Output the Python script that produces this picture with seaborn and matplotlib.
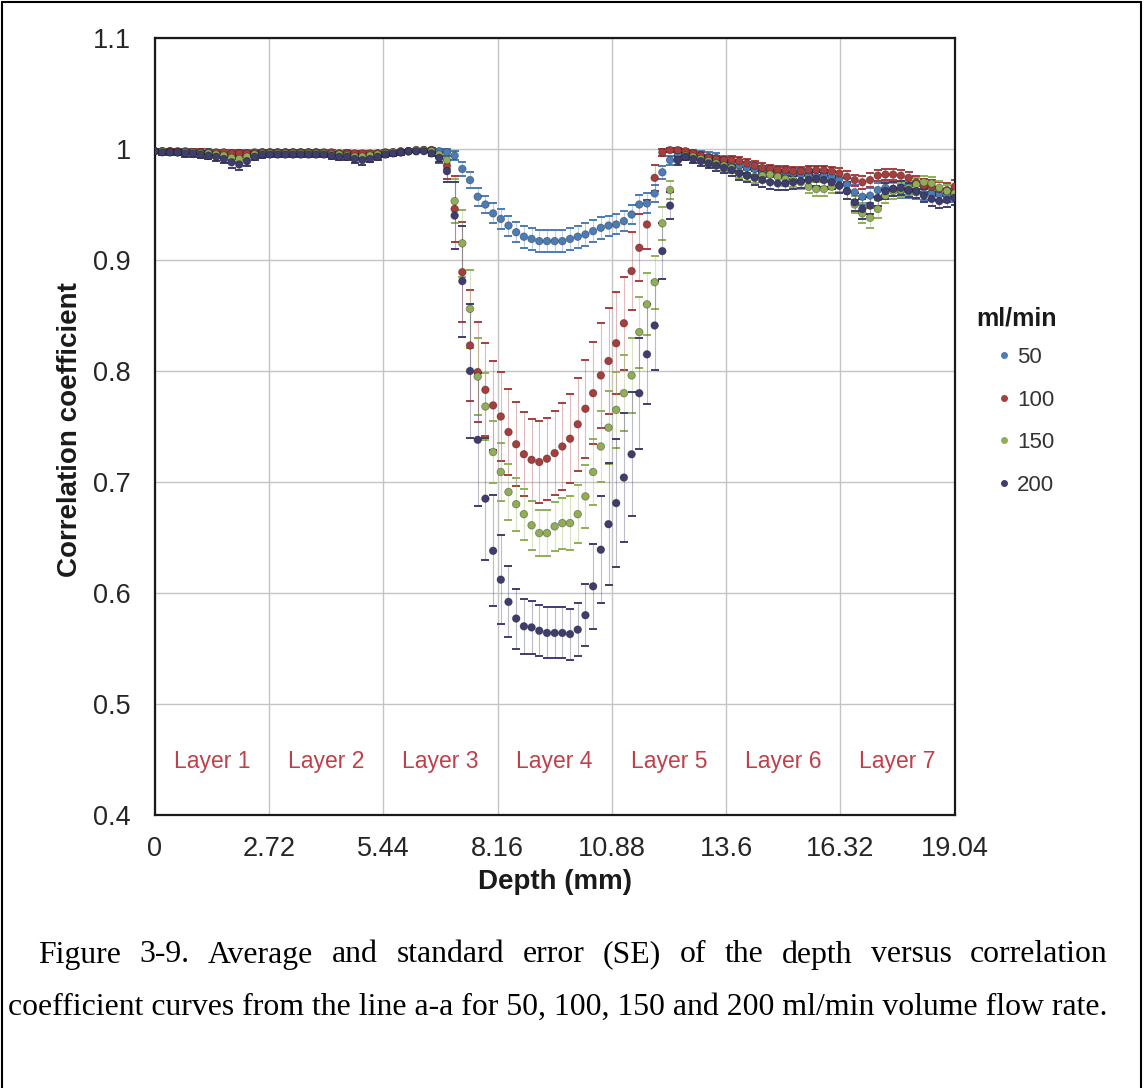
import numpy as np
import pandas as pd
import matplotlib.pyplot as plt
from matplotlib.lines import Line2D
import seaborn as sns

# === Data ===
# 105 samples along line a-a, evenly spaced from 0 to 19.04 mm
depth = np.linspace(0, 19.04, 105)

rates = ["50", "100", "150", "200"]
colors = ["#4C7CB6", "#A63E3E", "#91AE56", "#3F3D6E"]

# one row per layer (15 samples each)
corr_50 = [
    0.998, 0.998, 0.998, 0.997, 0.998, 0.997, 0.997, 0.997, 0.996, 0.996, 0.995, 0.996, 0.996, 0.997, 0.997,
    0.997, 0.997, 0.997, 0.997, 0.997, 0.997, 0.997, 0.996, 0.996, 0.996, 0.996, 0.995, 0.995, 0.995, 0.996,
    0.996, 0.997, 0.997, 0.998, 0.998, 0.999, 0.999, 0.998, 0.997, 0.994, 0.982, 0.972, 0.957, 0.950, 0.942,
    0.937, 0.931, 0.925, 0.921, 0.919, 0.917, 0.917, 0.917, 0.917, 0.919, 0.921, 0.923, 0.926, 0.929, 0.931,
    0.932, 0.935, 0.941, 0.950, 0.951, 0.960, 0.979, 0.990, 0.996, 0.996, 0.995, 0.994, 0.993, 0.992, 0.990,
    0.988, 0.985, 0.983, 0.982, 0.980, 0.980, 0.979, 0.979, 0.978, 0.977, 0.976, 0.975, 0.976, 0.975, 0.973,
    0.968, 0.961, 0.957, 0.958, 0.963, 0.965, 0.964, 0.962, 0.962, 0.961, 0.960, 0.960, 0.959, 0.958, 0.958,
]
se_50 = [
    0.002, 0.002, 0.002, 0.002, 0.002, 0.002, 0.002, 0.003, 0.003, 0.003, 0.003, 0.003, 0.003, 0.002, 0.002,
    0.002, 0.002, 0.002, 0.002, 0.002, 0.002, 0.002, 0.002, 0.002, 0.002, 0.003, 0.003, 0.003, 0.003, 0.002,
    0.002, 0.002, 0.002, 0.001, 0.001, 0.001, 0.001, 0.002, 0.003, 0.004, 0.006, 0.007, 0.008, 0.008, 0.009,
    0.009, 0.009, 0.009, 0.010, 0.010, 0.010, 0.010, 0.010, 0.010, 0.010, 0.010, 0.010, 0.010, 0.010, 0.009,
    0.009, 0.009, 0.009, 0.009, 0.009, 0.008, 0.006, 0.004, 0.003, 0.003, 0.003, 0.004, 0.004, 0.004, 0.004,
    0.005, 0.005, 0.005, 0.005, 0.005, 0.005, 0.005, 0.005, 0.005, 0.005, 0.005, 0.005, 0.005, 0.005, 0.006,
    0.006, 0.007, 0.007, 0.007, 0.006, 0.006, 0.006, 0.006, 0.006, 0.006, 0.006, 0.006, 0.006, 0.006, 0.006,
]

corr_100 = [
    0.998, 0.998, 0.998, 0.998, 0.997, 0.997, 0.997, 0.997, 0.997, 0.997, 0.996, 0.996, 0.996, 0.996, 0.997,
    0.997, 0.997, 0.997, 0.997, 0.997, 0.997, 0.997, 0.997, 0.997, 0.996, 0.996, 0.996, 0.996, 0.996, 0.996,
    0.997, 0.997, 0.998, 0.998, 0.999, 0.999, 0.999, 0.993, 0.985, 0.946, 0.889, 0.823, 0.799, 0.783, 0.769,
    0.759, 0.745, 0.734, 0.725, 0.720, 0.718, 0.721, 0.726, 0.732, 0.739, 0.752, 0.766, 0.780, 0.796, 0.809,
    0.825, 0.843, 0.890, 0.911, 0.932, 0.974, 0.997, 0.999, 0.999, 0.998, 0.996, 0.994, 0.992, 0.991, 0.990,
    0.990, 0.989, 0.987, 0.985, 0.983, 0.982, 0.981, 0.981, 0.980, 0.980, 0.981, 0.981, 0.981, 0.980, 0.978,
    0.975, 0.972, 0.970, 0.972, 0.976, 0.977, 0.977, 0.976, 0.974, 0.970, 0.967, 0.966, 0.964, 0.963, 0.966,
]
se_100 = [
    0.002, 0.002, 0.002, 0.002, 0.002, 0.003, 0.003, 0.002, 0.002, 0.002, 0.003, 0.003, 0.002, 0.002, 0.002,
    0.002, 0.002, 0.002, 0.002, 0.002, 0.002, 0.002, 0.002, 0.002, 0.002, 0.002, 0.002, 0.002, 0.002, 0.002,
    0.002, 0.002, 0.001, 0.001, 0.001, 0.001, 0.002, 0.006, 0.012, 0.030, 0.045, 0.050, 0.045, 0.042, 0.040,
    0.040, 0.039, 0.038, 0.038, 0.037, 0.037, 0.037, 0.038, 0.039, 0.040, 0.042, 0.044, 0.046, 0.047, 0.048,
    0.046, 0.042, 0.035, 0.030, 0.022, 0.012, 0.003, 0.002, 0.002, 0.002, 0.003, 0.003, 0.003, 0.003, 0.003,
    0.004, 0.004, 0.004, 0.004, 0.004, 0.004, 0.004, 0.004, 0.004, 0.004, 0.004, 0.004, 0.004, 0.004, 0.005,
    0.005, 0.005, 0.006, 0.006, 0.005, 0.005, 0.005, 0.005, 0.005, 0.006, 0.006, 0.006, 0.006, 0.006, 0.006,
]

corr_150 = [
    0.998, 0.998, 0.997, 0.997, 0.997, 0.997, 0.996, 0.996, 0.995, 0.994, 0.992, 0.991, 0.993, 0.995, 0.996,
    0.996, 0.996, 0.996, 0.996, 0.996, 0.996, 0.996, 0.996, 0.995, 0.995, 0.994, 0.993, 0.993, 0.994, 0.995,
    0.996, 0.997, 0.997, 0.998, 0.999, 0.999, 0.998, 0.995, 0.990, 0.953, 0.915, 0.856, 0.795, 0.768, 0.727,
    0.709, 0.691, 0.680, 0.671, 0.661, 0.654, 0.654, 0.660, 0.663, 0.663, 0.671, 0.687, 0.709, 0.732, 0.749,
    0.765, 0.780, 0.796, 0.835, 0.860, 0.880, 0.933, 0.963, 0.990, 0.994, 0.993, 0.991, 0.989, 0.987, 0.985,
    0.983, 0.979, 0.976, 0.975, 0.976, 0.977, 0.975, 0.973, 0.972, 0.970, 0.966, 0.964, 0.964, 0.966, 0.967,
    0.962, 0.950, 0.942, 0.938, 0.946, 0.958, 0.962, 0.963, 0.965, 0.968, 0.970, 0.969, 0.965, 0.962, 0.960,
]
se_150 = [
    0.002, 0.002, 0.002, 0.002, 0.002, 0.002, 0.003, 0.003, 0.003, 0.004, 0.004, 0.004, 0.003, 0.003, 0.002,
    0.002, 0.002, 0.002, 0.002, 0.002, 0.002, 0.002, 0.002, 0.003, 0.003, 0.003, 0.003, 0.003, 0.003, 0.003,
    0.002, 0.002, 0.002, 0.001, 0.001, 0.001, 0.002, 0.003, 0.008, 0.020, 0.030, 0.035, 0.035, 0.030, 0.028,
    0.026, 0.025, 0.024, 0.023, 0.022, 0.021, 0.021, 0.022, 0.023, 0.024, 0.026, 0.028, 0.030, 0.032, 0.033,
    0.034, 0.034, 0.034, 0.032, 0.028, 0.024, 0.015, 0.008, 0.004, 0.003, 0.003, 0.004, 0.004, 0.004, 0.005,
    0.005, 0.005, 0.005, 0.006, 0.006, 0.006, 0.006, 0.006, 0.006, 0.006, 0.006, 0.006, 0.006, 0.006, 0.006,
    0.007, 0.008, 0.009, 0.009, 0.008, 0.007, 0.007, 0.006, 0.006, 0.006, 0.006, 0.006, 0.006, 0.006, 0.006,
]

corr_200 = [
    0.998, 0.997, 0.997, 0.997, 0.996, 0.996, 0.995, 0.994, 0.993, 0.991, 0.988, 0.986, 0.989, 0.993, 0.995,
    0.995, 0.995, 0.995, 0.995, 0.995, 0.995, 0.995, 0.995, 0.994, 0.993, 0.993, 0.991, 0.990, 0.991, 0.993,
    0.995, 0.996, 0.997, 0.998, 0.998, 0.998, 0.996, 0.992, 0.980, 0.940, 0.881, 0.800, 0.738, 0.685, 0.638,
    0.612, 0.592, 0.577, 0.570, 0.569, 0.566, 0.564, 0.564, 0.564, 0.563, 0.567, 0.580, 0.606, 0.639, 0.662,
    0.681, 0.704, 0.725, 0.780, 0.815, 0.841, 0.908, 0.949, 0.990, 0.993, 0.991, 0.989, 0.987, 0.985, 0.983,
    0.981, 0.978, 0.976, 0.974, 0.972, 0.970, 0.969, 0.969, 0.970, 0.971, 0.972, 0.973, 0.972, 0.970, 0.967,
    0.962, 0.952, 0.946, 0.949, 0.956, 0.962, 0.964, 0.965, 0.963, 0.962, 0.958, 0.955, 0.953, 0.954, 0.956,
]
se_200 = [
    0.002, 0.002, 0.002, 0.002, 0.003, 0.003, 0.003, 0.003, 0.004, 0.004, 0.005, 0.005, 0.004, 0.003, 0.003,
    0.002, 0.002, 0.002, 0.002, 0.002, 0.002, 0.002, 0.002, 0.003, 0.003, 0.003, 0.004, 0.004, 0.003, 0.003,
    0.002, 0.002, 0.002, 0.001, 0.001, 0.001, 0.002, 0.004, 0.010, 0.030, 0.050, 0.060, 0.060, 0.055, 0.050,
    0.040, 0.032, 0.027, 0.025, 0.024, 0.023, 0.023, 0.023, 0.023, 0.023, 0.024, 0.028, 0.038, 0.048, 0.055,
    0.058, 0.058, 0.056, 0.050, 0.045, 0.040, 0.025, 0.012, 0.004, 0.003, 0.004, 0.004, 0.004, 0.005, 0.005,
    0.005, 0.006, 0.006, 0.006, 0.006, 0.006, 0.006, 0.006, 0.006, 0.006, 0.006, 0.006, 0.006, 0.006, 0.007,
    0.007, 0.008, 0.009, 0.008, 0.007, 0.007, 0.006, 0.006, 0.006, 0.006, 0.006, 0.006, 0.006, 0.006, 0.006,
]

xticks = [0, 2.72, 5.44, 8.16, 10.88, 13.6, 16.32, 19.04]
xtick_labels = ["0", "2.72", "5.44", "8.16", "10.88", "13.6", "16.32", "19.04"]
yticks = [0.4, 0.5, 0.6, 0.7, 0.8, 0.9, 1.0, 1.1]
ytick_labels = ["0.4", "0.5", "0.6", "0.7", "0.8", "0.9", "1", "1.1"]
layers = ["Layer 1", "Layer 2", "Layer 3", "Layer 4", "Layer 5", "Layer 6", "Layer 7"]

caption_1 = "Figure 3-9. Average and standard error (SE) of the depth versus correlation"
caption_2 = "coefficient curves from the line a-a for 50, 100, 150 and 200 ml/min volume flow rate."

# === Long table ===
df = pd.concat([
    pd.DataFrame({"depth": depth, "corr": c, "se": s, "rate": r})
    for r, c, s in zip(rates, [corr_50, corr_100, corr_150, corr_200],
                       [se_50, se_100, se_150, se_200])
], ignore_index=True)

# === Figure ===
sns.set_style("white")
plt.rcParams["font.family"] = ["Liberation Sans", "DejaVu Sans"]

W, H = 1144, 1088
fig = plt.figure(figsize=(W / 100, H / 100), dpi=100)
ax = fig.add_axes([154.6 / W, 1 - 815 / H, 800.1 / W, 777 / H])

palette = dict(zip(rates, colors))
for r in rates:
    sub = df[df["rate"] == r]
    _, caps, bars = ax.errorbar(sub["depth"], sub["corr"], yerr=sub["se"], fmt="none",
                                ecolor=palette[r], elinewidth=0.8, capsize=2.6,
                                capthick=1.4, zorder=2)
    bars[0].set_alpha(0.35)

sns.scatterplot(data=df, x="depth", y="corr", hue="rate", palette=palette,
                s=30, linewidth=0.6, edgecolor=(0, 0, 0, 0.35), ax=ax, zorder=3,
                legend=False)

ax.set_xlim(0, 19.04)
ax.set_ylim(0.4, 1.1)
ax.set_xticks(xticks, xtick_labels)
ax.set_yticks(yticks, ytick_labels)
ax.set_xlabel("")
ax.set_ylabel("")
ax.grid(True, color="#C4C4C4", lw=1.0)
ax.set_axisbelow(True)
for sp in ax.spines.values():
    sp.set_color("#1A1A1A")
    sp.set_linewidth(1.6)
ax.tick_params(axis="x", length=6, width=1.5, pad=9, labelsize=19.5,
               labelcolor="#262626", direction="out")
ax.tick_params(axis="y", length=0, pad=17, labelsize=19.5, labelcolor="#262626")

# layer names, centred in each band between ticks
for i, name in enumerate(layers):
    ax.text((xticks[i] + xticks[i + 1]) / 2, 0.448, name, ha="center", va="center",
            color="#C0404A", fontsize=16.5)

fig.text(70 / W, 1 - 430 / H, "Correlation coefficient", rotation=90, ha="center",
         va="center", fontsize=20, weight="bold", color="#1A1A1A")
fig.text(554.6 / W, 1 - 882 / H, "Depth (mm)", ha="center", va="center",
         fontsize=20, weight="bold", color="#1A1A1A")

# legend
fig.text(1016 / W, 1 - 318 / H, "ml/min", ha="center", va="center", fontsize=18,
         weight="bold", color="#1A1A1A")
handles = [Line2D([], [], ls="none", marker="o", ms=4, color=c) for c in colors]
fig.legend(handles, rates, loc="upper left", bbox_to_anchor=(997 / W, 1 - 347 / H),
           frameon=False, fontsize=16, handlelength=0.6, handletextpad=0.3,
           labelspacing=0.97, borderpad=0, borderaxespad=0, labelcolor="#333333")

# caption, Times-like, first line justified
fig.canvas.draw()
rend = fig.canvas.get_renderer()
cap_font = dict(family=["Liberation Serif", "DejaVu Serif"], color="black", va="center")
t2 = fig.text(8 / W, 1 - 1007 / H, caption_2, fontsize=20, **cap_font)
fs = 20 * 1100 / t2.get_window_extent(rend).width
t2.set_fontsize(fs)

words = caption_1.split(" ")
wtexts = [fig.text(0, 1 - 955 / H, w, fontsize=fs, **cap_font) for w in words]
widths = [t.get_window_extent(rend).width for t in wtexts]
gap = ((1108 - 38) - sum(widths)) / (len(words) - 1)
xpos = 38
for t, w in zip(wtexts, widths):
    t.set_x(xpos / W)
    xpos += w + gap

# page frame
for xs, ys in [([2, 2], [1088, 2]), ([2, 1141], [2, 2]), ([1141, 1141], [2, 1088])]:
    fig.add_artist(Line2D([x / W for x in xs], [1 - y / H for y in ys],
                          transform=fig.transFigure, color="black", lw=1.5))

fig.savefig("out.png", dpi=100)
